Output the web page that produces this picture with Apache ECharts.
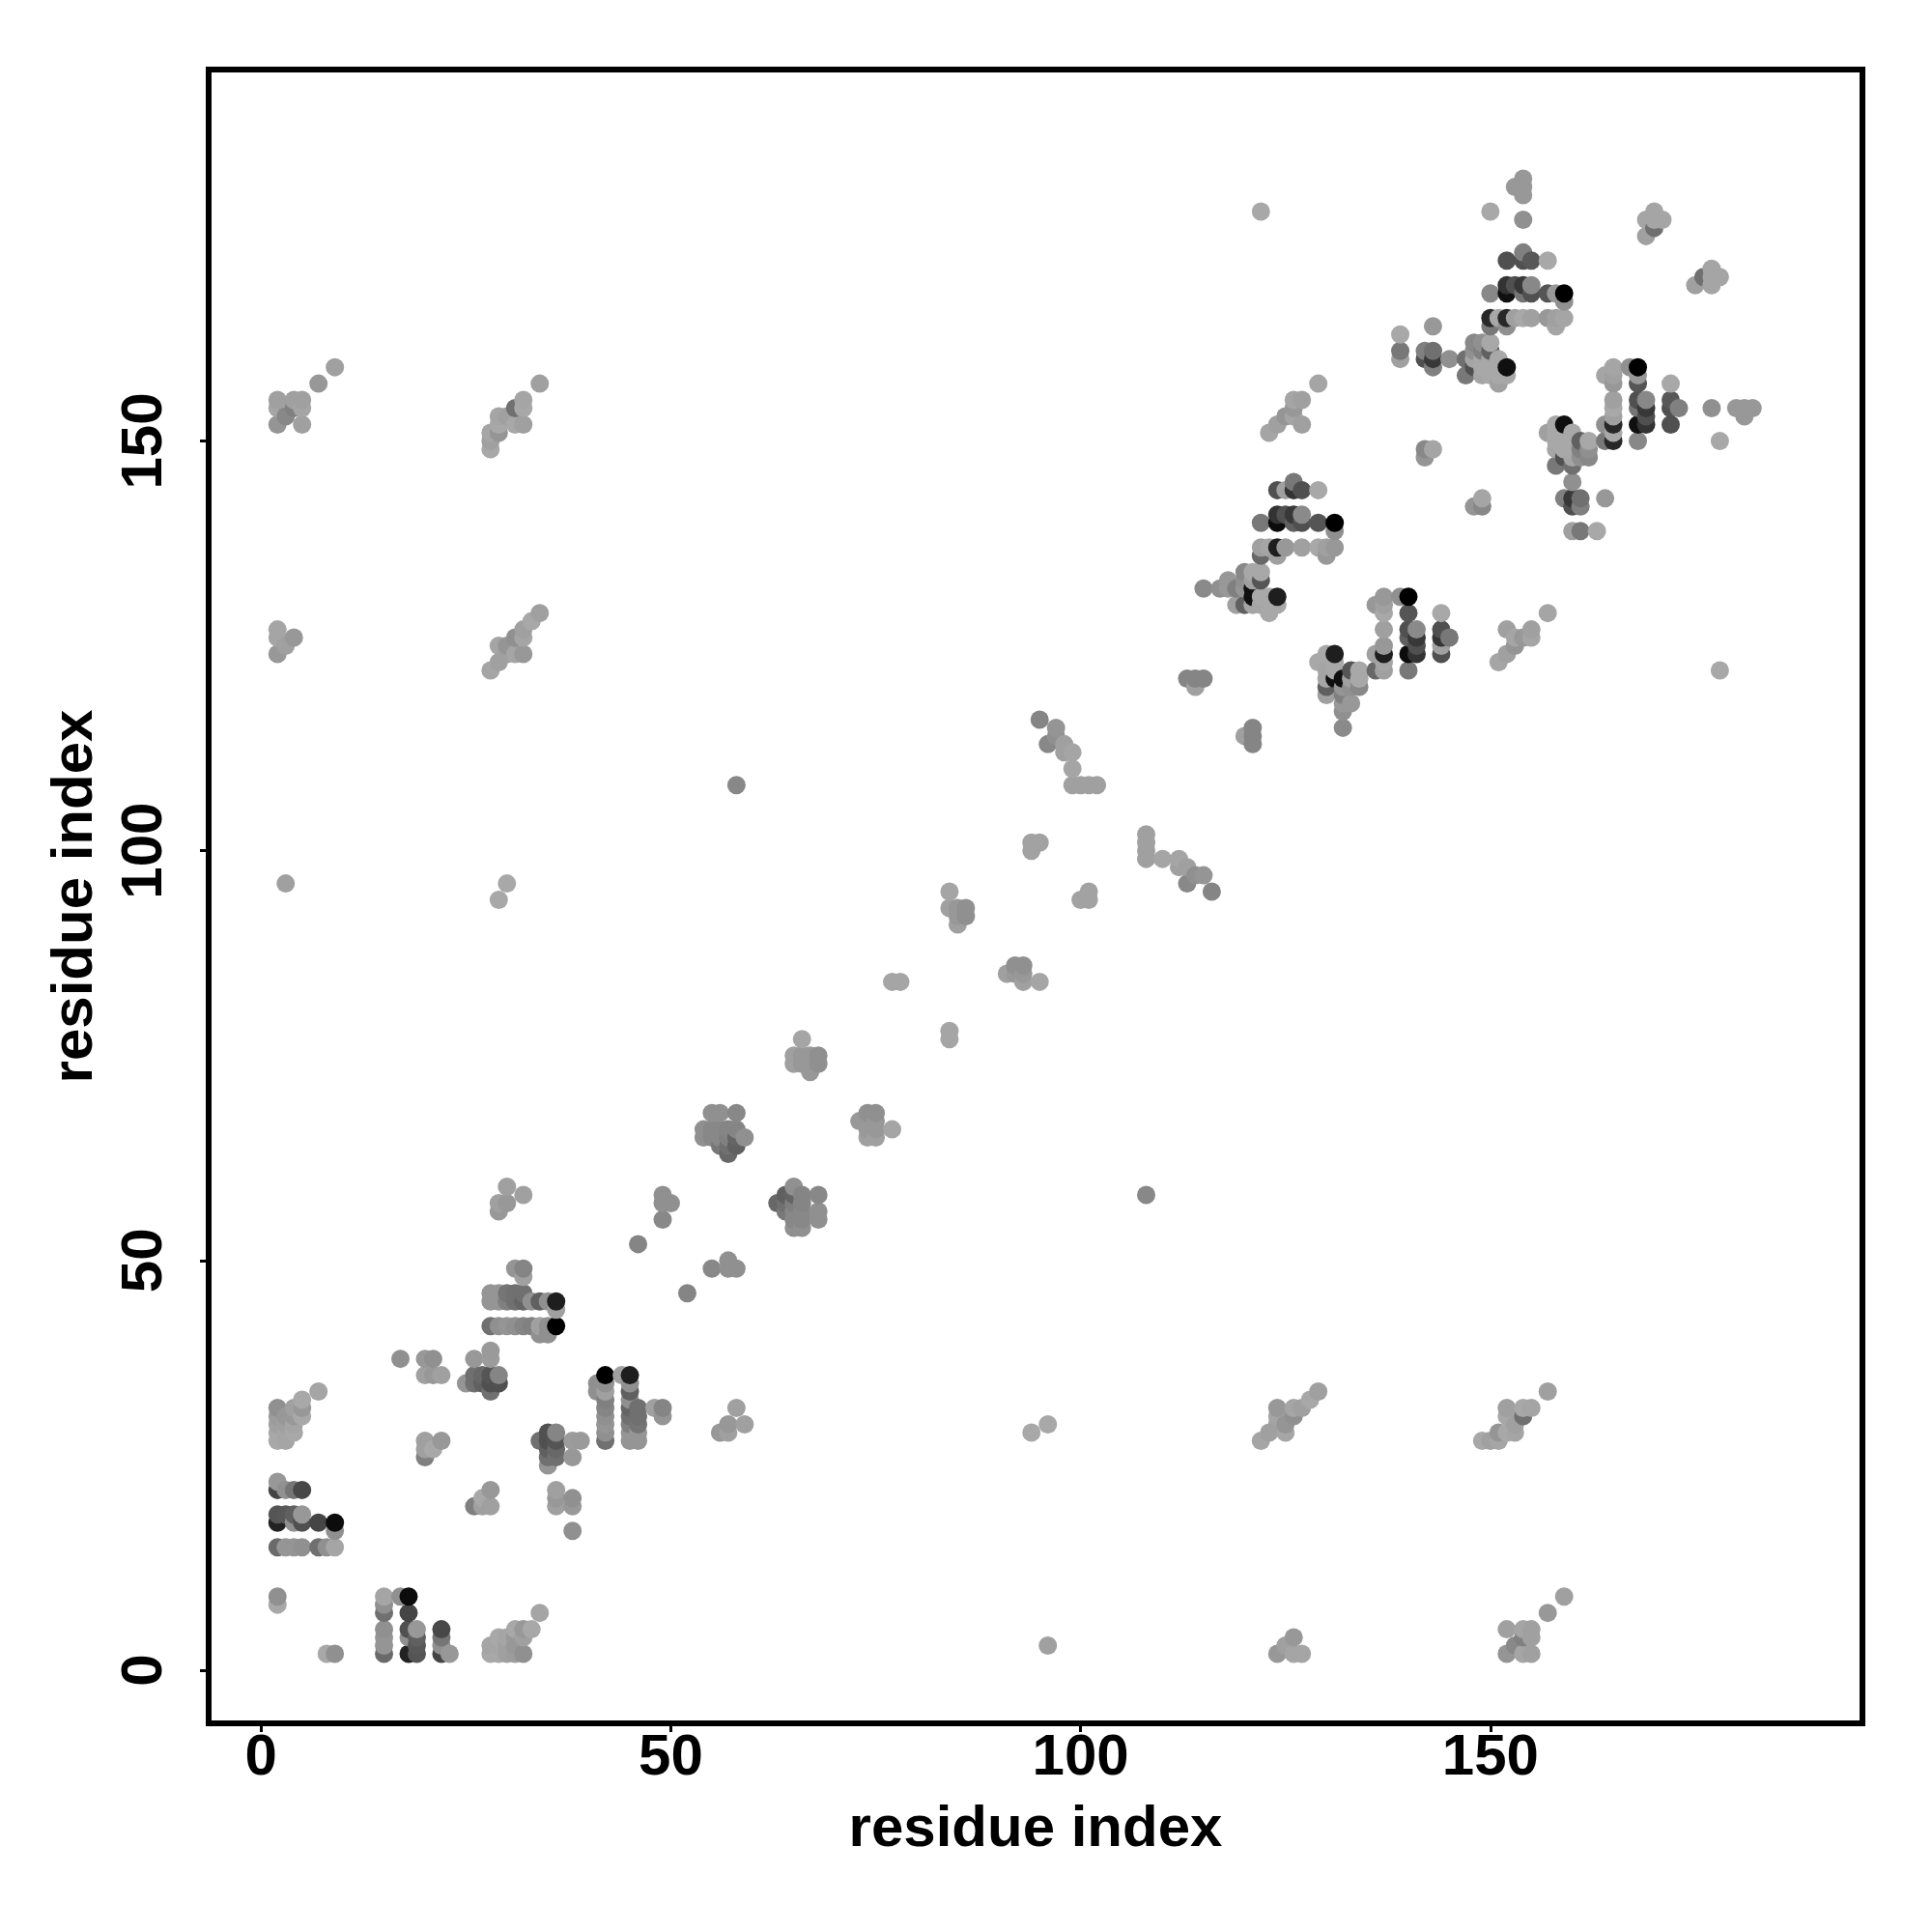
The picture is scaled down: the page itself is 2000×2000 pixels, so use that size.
<!DOCTYPE html>
<html>
<head>
<meta charset="utf-8">
<script src="https://cdn.jsdelivr.net/npm/echarts@6/dist/echarts.min.js"></script>
<style>html,body{margin:0;padding:0;background:#fff}#c{width:2000px;height:2000px}</style>
</head>
<body>
<div id="c"></div>
<script>
const axisTitle = "residue index";
const tickValues = [0, 50, 100, 150];
const residues = [2,3,4,5,7,8,9,17,20,21,22,25,26,27,28,29,30,31,32,33,34,35,36,46,49,50,54,55,56,57,58,59,65,66,67,68,77,78,84,85,86,94,95,96,97,98,99,100,101,102,113,114,115,117,118,119,120,121,122,123,124,125,126,127,129,130,131,139,142,143,145,147,148,149,150,151,152,153,154,155,157,158,159,169,170,171];
const partners = [
[8,9,15,18,19,22,23,28,29,30,31,32,124,126,127,152,154,155],
[15,19,22,28,29,30,31,96,125,153],
[15,18,19,22,29,30,31,32,126,154,155],
[15,18,19,22,31,32,33,152,154,155],
[15,18,34,157],
[15],
[15,17,18,159],
[38],
[26,27,28,36,38],
[27,36,38],
[28,36],
[35],
[35,36,38],
[35,36],
[34,35,36,38,39,42,45,46,122,149,150,151],
[35,36,42,45,46,56,57,94,123,125,151,152,153],
[42,45,46,57,59,96,124,125,153],
[42,45,46,49,124,126,152,154],
[42,45,46,48,49,58,124,126,127,152,154,155],
[42,45,128],
[41,42,45,129,157],
[41,42,45],
[42,44,45],
[52],
[55,57,58],
[57],
[65,66],
[65,66,68],
[64,65,66,68],
[63,64,65,66],
[64,65,66,68,108],
[65],
[74,75],
[74,75,77],
[73,74,75],
[74,75],
[84],
[84],
[93,95],
[91,92,93],
[92,93],
[100,101],
[101,116],
[113],
[114,115],
[112,113],
[108,110,112],
[108],
[108],
[108],
[121],
[120,121],
[121,132],
[132],
[132,133],
[130,132],
[130,132,133,134],
[130,131,132,133,134],
[130,131,133,134,136,137,140,178],
[129,131,137,151],
[130,131,136,137,140,141,144,152],
[137,141,144,153],
[140,141,144,145,153,154,155],
[137,140,141,144,152,155],
[137,140,144,157],
[136,137],
[137,139,140],
[160,161,163],
[148,149,160,161],
[149,159,160,161,164],
[160],
[158,160],
[159,160,161,162],
[158,159,160,161,162],
[158,159,160,161,162,164,165,168,178],
[157,158,159,160,165],
[158,159,164,165,168,169,172],
[165,169,181],
[165,168,169,172,173,177,180,181,182],
[165,168,169,172],
[165,168,172],
[164,165,168],
[165,167,168],
[175,177],
[176,177,178],
[177]
];
const greys = [
[0xa8,0x90,0x6a,0x22,0x55,0x44,0x98,0xa8,0xa8,0xa0,0x9c,0x90,0x98,0xa5,0xa5,0x95,0xa5,0xa0],
[0x95,0x58,0x90,0xa5,0xa5,0xa0,0x98,0xa0,0xa0,0x88],
[0x95,0x90,0x60,0x75,0xa8,0xa5,0x98,0xa0,0x98,0x80,0xa0],
[0x90,0x50,0x98,0x48,0xa8,0x98,0xa8,0xa0,0xa5,0xa0],
[0x70,0x45,0xa5,0x98],
[0x90],
[0xa5,0x90,0x0c,0xa0],
[0x90],
[0x80,0xa0,0xa0,0xa0,0x98],
[0xa8,0x98,0x90],
[0x98,0xa0],
[0x95],
[0x70,0x70,0x98],
[0x60,0x68],
[0x70,0x50,0x55,0x9c,0x9a,0x70,0x95,0x95,0xa5,0xa8,0xa0,0xa5],
[0x50,0x85,0x90,0x95,0x95,0x98,0xa0,0xa8,0xa0,0xa5,0x95,0xa8,0xa5],
[0x95,0x80,0x75,0x98,0xa0,0xa8,0xa0,0x95,0xa0],
[0x90,0x70,0x70,0x95,0xa5,0x90,0xa8,0x70],
[0x85,0x65,0x70,0xa0,0x85,0xa0,0x98,0xa5,0xa0,0xa0,0xa8,0xa5],
[0x80,0x90,0xa8],
[0x90,0xa0,0x60,0xa0,0xa0],
[0x90,0x90,0x90],
[0x00,0xa0,0x1e],
[0x85],
[0x88,0x90,0x90],
[0x90],
[0x90,0x90],
[0x88,0x88,0x90],
[0x78,0x88,0x88,0x90],
[0x68,0x70,0x80,0x85],
[0x60,0x65,0x85,0x88,0x88],
[0x90],
[0xa0,0xa0],
[0x98,0x98,0xa5],
[0x98,0x98,0x98],
[0x90,0x90],
[0xa5],
[0xa5],
[0xa0,0xa5],
[0xa0,0x98,0x98],
[0x90,0x90],
[0xa2,0xa2],
[0xa2,0x85],
[0x88],
[0x90,0x95],
[0xa0,0xa0],
[0xa0,0xa5,0xa5],
[0xa0],
[0xa0],
[0xa0],
[0x85],
[0xa0,0x85],
[0x85,0x8a],
[0x90],
[0x98,0x98],
[0xa0,0x80],
[0x60,0x95,0x90,0x88],
[0xa5,0x10,0x10,0xa0,0xa8],
[0xa5,0xa8,0x55,0xa8,0x68,0xa0,0x78,0xa8],
[0xa8,0xa8,0xa5,0xa5],
[0xa8,0x1e,0xa0,0x1e,0x0c,0x33,0x50,0xa0],
[0x98,0x50,0xa0,0x95],
[0x60,0x38,0x35,0x78,0xa5,0x98,0xa5],
[0xa0,0x50,0x8a,0x50,0xa0,0xa0],
[0xa8,0x55,0xa8,0xa5],
[0x98,0xa0],
[0x98,0x90,0x00],
[0xa0,0x78,0xa8],
[0x95,0x88,0x50,0x80],
[0xa5,0x80,0x38,0x70,0x98],
[0x90],
[0x78,0x70],
[0x50,0xa5,0x90,0x88],
[0xa5,0xa8,0xa8,0x80,0x90],
[0xa8,0xa8,0xa8,0x60,0xa8,0x78,0x28,0x88,0xa8],
[0xa0,0xa8,0xa8,0xa8,0xa8],
[0xa8,0x10,0x90,0x28,0x10,0x33,0x50],
[0xa0,0x50,0x98],
[0xa8,0x75,0x38,0x50,0x80,0x90,0x98,0x98,0x98],
[0xa0,0x50,0x88,0x58],
[0x98,0x55,0xa8],
[0xa5,0xa0,0x98],
[0xa5,0x90,0x00],
[0xa0,0xa5],
[0x70,0xa5,0xa5],
[0xa5]
];

// A contact map is symmetric: each contact (i, j) is a mark on both sides of the diagonal.
const points = [];
residues.forEach((res, r) => {
  partners[r].forEach((p, k) => {
    points.push([res, p, greys[r][k]]);
    points.push([p, res, greys[r][k]]);
  });
});
points.sort((a, b) => a[0] - b[0] || a[1] - b[1]);

const font = { fontFamily: "Liberation Sans", fontWeight: "bold", fontSize: 60, color: "#000" };
const chart = echarts.init(document.getElementById("c"), null, { renderer: "canvas" });
chart.setOption({
  animation: false,
  backgroundColor: "#fff",
  grid: { left: 216, top: 72, width: 1712, height: 1712, show: true, borderColor: "#000", borderWidth: 6, backgroundColor: "transparent", containLabel: false },
  xAxis: {
    type: "value", min: -6.4, max: 195.4,
    name: axisTitle, nameLocation: "middle", nameGap: 80, nameTextStyle: font,
    splitLine: { show: false }, axisLine: { show: false, onZero: false },
    axisTick: { show: true, length: 9, lineStyle: { color: "#000", width: 3 }, customValues: tickValues },
    axisLabel: Object.assign({ show: true, margin: 6, customValues: tickValues, hideOverlap: false, showMinLabel: true, showMaxLabel: true }, font)
  },
  yAxis: {
    type: "value", min: -6.48, max: 195.32,
    name: axisTitle, nameLocation: "middle", nameGap: 108, nameTextStyle: font,
    splitLine: { show: false }, axisLine: { show: false, onZero: false },
    axisTick: { show: true, length: 9, lineStyle: { color: "#000", width: 3 }, customValues: tickValues },
    axisLabel: Object.assign({ show: true, margin: 36, rotate: 90, customValues: tickValues, hideOverlap: false }, font)
  },
  series: [{
    type: "scatter",
    data: points,
    symbol: "circle",
    symbolSize: 19,
    silent: true,
    itemStyle: { opacity: 1, color: (p) => { const g = p.data[2]; return `rgb(${g},${g},${g})`; } }
  }]
});
</script>
</body>
</html>
